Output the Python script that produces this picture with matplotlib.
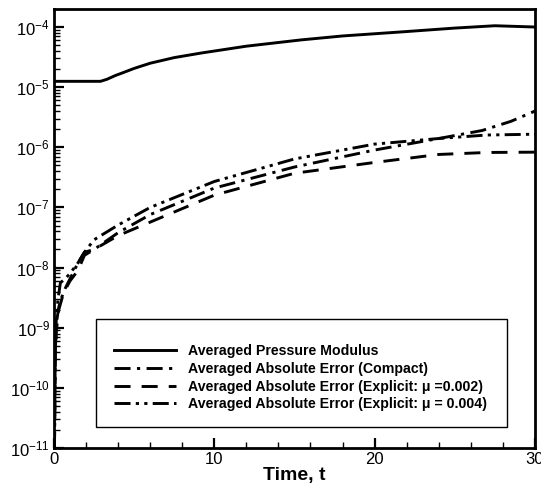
import matplotlib
matplotlib.use("Agg")
import matplotlib.pyplot as plt
from matplotlib.patches import Rectangle
from matplotlib.ticker import LogLocator, MultipleLocator, NullFormatter

plt.rcParams['font.family'] = ['Liberation Sans', 'DejaVu Sans']
plt.rcParams['mathtext.default'] = 'regular'

# Data
t_pm = [0.0, 2.9, 3.3, 3.8, 4.4, 5.0, 6.0, 7.5, 9.2, 12.0, 15.4, 18.0, 21.7, 25.0, 27.5, 30.0]
pm = [1.25e-5, 1.25e-5, 1.35e-5, 1.55e-5, 1.78e-5, 2.05e-5, 2.5e-5, 3.1e-5, 3.7e-5, 4.8e-5, 6.1e-5, 7.1e-5, 8.3e-5, 9.6e-5, 1.05e-4, 1.0e-4]

t_c = [0.03, 0.08, 0.15, 0.3, 0.44, 0.7, 1.06, 1.5, 1.9, 2.5, 4.0, 6.0, 10.0, 15.0, 20.0, 24.0, 26.7, 28.5, 30.0]
compact = [1e-11, 4e-10, 1.2e-9, 2.2e-9, 3e-9, 4.5e-9, 7e-9, 1.2e-8, 1.8e-8, 2.0e-8, 3.8e-8, 7.6e-8, 2.1e-7, 4.7e-7, 9.0e-7, 1.4e-6, 1.9e-6, 2.7e-6, 4.0e-6]

t_e2 = [0.03, 0.08, 0.15, 0.3, 0.6, 1.0, 1.5, 1.9, 2.5, 4.0, 6.0, 10.0, 15.0, 20.0, 24.0, 27.0, 30.0]
exp002 = [1e-11, 3e-10, 9e-10, 2.0e-9, 3.8e-9, 6e-9, 9e-9, 1.6e-8, 2.0e-8, 3.4e-8, 5.7e-8, 1.6e-7, 3.7e-7, 5.6e-7, 7.6e-7, 8.2e-7, 8.3e-7]

t_e4 = [0.03, 0.08, 0.15, 0.25, 0.4, 0.7, 1.0, 1.5, 1.9, 2.5, 4.0, 6.0, 10.0, 15.0, 20.0, 24.0, 27.0, 30.0]
exp004 = [1e-11, 5e-10, 1.5e-9, 3e-9, 5.6e-9, 6.5e-9, 8e-9, 1.2e-8, 1.8e-8, 2.9e-8, 5.1e-8, 1.0e-7, 2.7e-7, 6.4e-7, 1.13e-6, 1.4e-6, 1.6e-6, 1.65e-6]

labels = ["Averaged Pressure Modulus",
          "Averaged Absolute Error (Compact)",
          "Averaged Absolute Error (Explicit: \u03bc =0.002)",
          "Averaged Absolute Error (Explicit: \u03bc = 0.004)"]

fig = plt.figure(figsize=(5.41, 4.93), dpi=100)
ax = fig.add_axes([0.0998, 0.0913, 0.889, 0.8905])

lw = 2.1
ax.plot(t_pm, pm, color='black', lw=lw, ls='-', label=labels[0])
ax.plot(t_c, compact, color='black', lw=lw, ls=(0, (5.5, 2.2, 1.1, 2.2)), label=labels[1])
ax.plot(t_e2, exp002, color='black', lw=lw, ls=(0, (5.5, 3.8)), label=labels[2])
ax.plot(t_e4, exp004, color='black', lw=lw, ls=(0, (5.5, 1.8, 1.1, 1.8, 1.1, 1.8)), label=labels[3])

ax.set_yscale('log')
ax.set_xlim(0, 30)
ax.set_ylim(1e-11, 10**-3.70)
ax.xaxis.set_major_locator(MultipleLocator(10))
ax.xaxis.set_minor_locator(MultipleLocator(2))
ax.yaxis.set_major_locator(LogLocator(base=10, numticks=20))
ax.yaxis.set_minor_locator(LogLocator(base=10, subs=range(2, 10), numticks=20))
ax.yaxis.set_minor_formatter(NullFormatter())

ax.tick_params(axis='both', which='major', direction='in', length=7, width=1.6, labelsize=12)
ax.tick_params(axis='both', which='minor', direction='in', length=4, width=1.0)
ax.tick_params(axis='y', which='both', right=False, pad=3)
ax.tick_params(axis='x', which='both', top=False)
ax.tick_params(axis='x', pad=3)
for s in ax.spines.values():
    s.set_linewidth(2.0)

ax.set_xlabel("Time, t", fontsize=14, fontweight='bold', labelpad=0)

# legend frame
rect = Rectangle((0.087, 0.048), 0.855, 0.246, transform=ax.transAxes,
                 fill=True, facecolor='white', edgecolor='black', lw=1.0, zorder=3)
ax.add_patch(rect)
leg = ax.legend(loc='center left', bbox_to_anchor=(0.125, 0.160), frameon=False,
                prop={'weight': 'bold', 'size': 10.2}, handlelength=4.4,
                handletextpad=0.8, labelspacing=0.25, borderpad=0, borderaxespad=0)
leg.set_zorder(4)

fig.savefig("out.png", dpi=100)
